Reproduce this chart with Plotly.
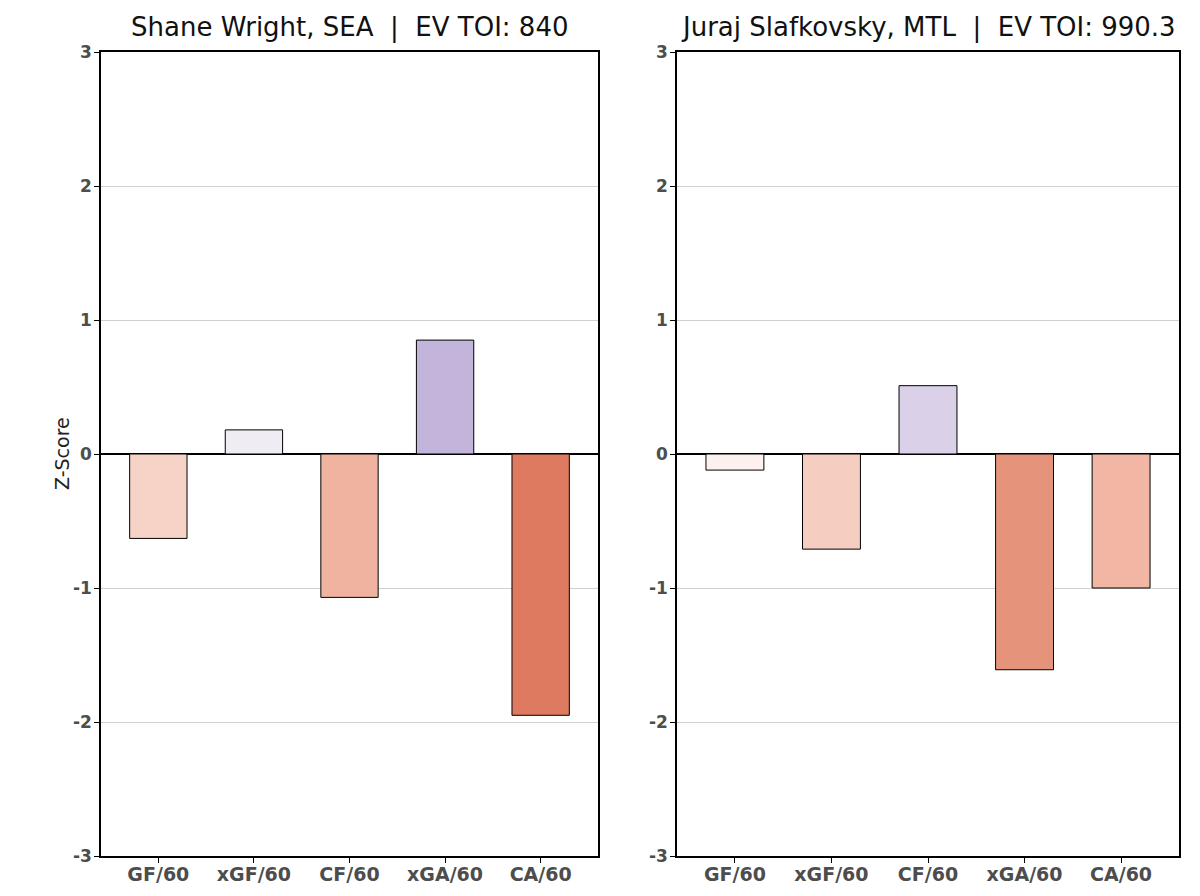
import plotly.graph_objects as go

categories = ["GF/60", "xGF/60", "CF/60", "xGA/60", "CA/60"]

wright_values = [-0.63, 0.18, -1.07, 0.85, -1.95]
slafkovsky_values = [-0.12, -0.71, 0.51, -1.61, -1.0]

wright_title = "Shane Wright, SEA  |  EV TOI: 840"
slafkovsky_title = "Juraj Slafkovsky, MTL  |  EV TOI: 990.3"
y_label = "Z-Score"

y_ticks = [-3, -2, -1, 0, 1, 2, 3]

# styles
wright_colors = ["#f6d2c7", "#efecf4", "#f0b3a0", "#c2b4db", "#dd7a60"]
slafkovsky_colors = ["#fcf1ee", "#f5cdc1", "#dad0e8", "#e5937a", "#f1b7a4"]

FONT = "DejaVu Sans"
TICK_COLOR = "#4d4d4d"

fig = go.Figure()
fig.add_trace(go.Bar(x=categories, y=wright_values, width=0.6,
                     marker=dict(color=wright_colors, line=dict(color="black", width=1)),
                     xaxis="x", yaxis="y", showlegend=False))
fig.add_trace(go.Bar(x=categories, y=slafkovsky_values, width=0.6,
                     marker=dict(color=slafkovsky_colors, line=dict(color="black", width=1)),
                     xaxis="x2", yaxis="y2", showlegend=False))

xcommon = dict(type="category", range=[-0.6, 4.6], showgrid=False, zeroline=False,
               showline=True, linecolor="black", linewidth=1.5, mirror=True,
               ticks="outside", ticklen=5, tickcolor="black", automargin=False,
               ticklabelstandoff=-5,
               tickfont=dict(family=FONT, size=19, color=TICK_COLOR, weight="bold"))
ycommon = dict(range=[-3, 3], tickvals=y_ticks, ticktext=[str(t) for t in y_ticks],
               showgrid=True, gridcolor="#d0d0d0", gridwidth=1,
               zeroline=True, zerolinecolor="black", zerolinewidth=1.5,
               showline=True, linecolor="black", linewidth=1.5, mirror=True,
               ticks="outside", ticklen=5, tickcolor="black", automargin=False,
               ticklabelstandoff=-1,
               tickfont=dict(family=FONT, size=17, color=TICK_COLOR, weight="bold"))

fig.update_layout(
    width=1200, height=896,
    margin=dict(l=0, r=0, t=0, b=0, autoexpand=False),
    paper_bgcolor="white", plot_bgcolor="white",
    xaxis=dict(domain=[101/1200, 598/1200], anchor="y", **xcommon),
    yaxis=dict(domain=[1-856/896, 1-52/896], anchor="x", **ycommon),
    xaxis2=dict(domain=[677/1200, 1179/1200], anchor="y2", **xcommon),
    yaxis2=dict(domain=[1-856/896, 1-52/896], anchor="x2", **ycommon),
    annotations=[
        dict(text=wright_title, x=(101+598)/2/1200, y=1-27/896, xref="paper", yref="paper",
             xanchor="center", yanchor="middle", showarrow=False,
             font=dict(family=FONT, size=26, color="#111")),
        dict(text=slafkovsky_title, x=(677+1179)/2/1200, y=1-27/896, xref="paper", yref="paper",
             xanchor="center", yanchor="middle", showarrow=False,
             font=dict(family=FONT, size=26, color="#111")),
        dict(text=y_label, x=62/1200, y=1-454/896, xref="paper", yref="paper",
             xanchor="center", yanchor="middle", showarrow=False, textangle=-90,
             font=dict(family=FONT, size=19, color="#222")),
    ],
)

fig.write_html("out.html", config={"displayModeBar": False},
               post_script="document.body.style.margin='0';")
